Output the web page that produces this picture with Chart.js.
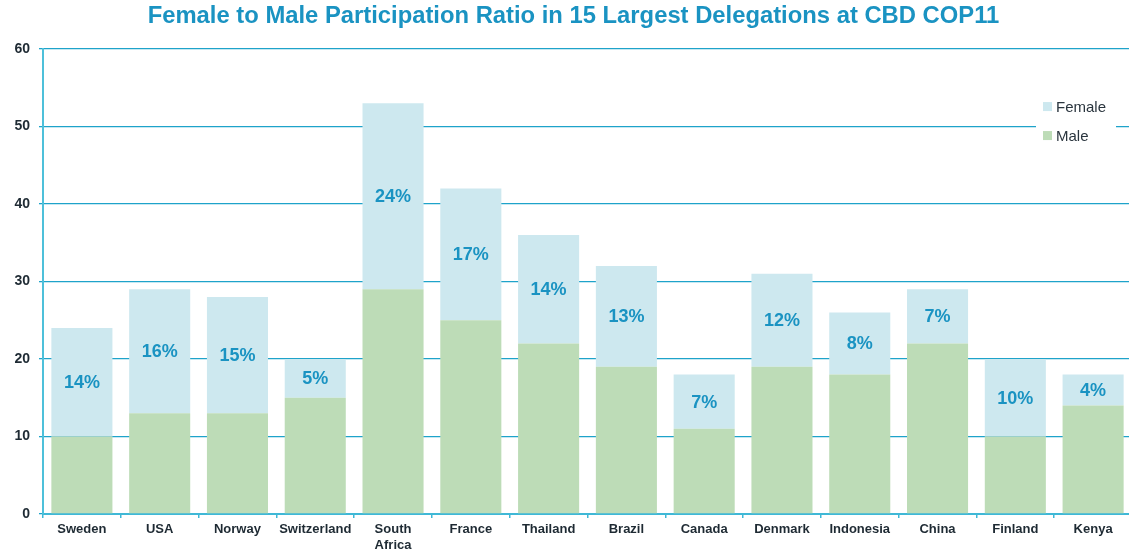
<!DOCTYPE html>
<html>
<head>
<meta charset="utf-8">
<script src="https://cdn.jsdelivr.net/npm/chart.js@4"></script>
<style>
  html, body { margin: 0; padding: 0; background: #ffffff; overflow: hidden; }
  #wrap { width: 1129px; height: 556px; position: relative; overflow: hidden; }
  #c { display: block; }
</style>
</head>
<body>
<div id="wrap"><canvas id="c" width="1132" height="556"></canvas></div>
<script>
const categories = ['Sweden', 'USA', 'Norway', 'Switzerland', ['South', 'Africa'], 'France', 'Thailand', 'Brazil', 'Canada', 'Denmark', 'Indonesia', 'China', 'Finland', 'Kenya'];
const maleValues = [10, 13, 13, 15, 29, 25, 22, 19, 11, 19, 18, 22, 10, 14];
const femaleValues = [14, 16, 15, 5, 24, 17, 14, 13, 7, 12, 8, 7, 10, 4];
const femaleLabels = ['14%', '16%', '15%', '5%', '24%', '17%', '14%', '13%', '7%', '12%', '8%', '7%', '10%', '4%'];
const yTicks = [0, 10, 20, 30, 40, 50, 60];

const FONT = 'Arial, "Liberation Sans", sans-serif';
const MALE_COLOR = '#bddcb7';
const FEMALE_COLOR = '#cde8ef';
const BLUE = '#1a93c2';
const DARK = '#1e2a33';

const titleShift = {
  id: 'titleShift',
  afterLayout(chart) {
    if (chart.titleBlock) { chart.titleBlock.left += 15; }
  }
};

const labelPlugin = {
  id: 'segLabels',
  afterDatasetsDraw(chart) {
    const ctx = chart.ctx;
    const meta = chart.getDatasetMeta(1);
    ctx.save();
    ctx.font = 'bold 18px ' + FONT;
    ctx.fillStyle = BLUE;
    ctx.textAlign = 'center';
    ctx.textBaseline = 'middle';
    meta.data.forEach((bar, i) => {
      const p = bar.getProps(['x', 'y', 'base'], true);
      ctx.fillText(femaleLabels[i], p.x, (p.y + p.base) / 2 + 1);
    });
    ctx.restore();
  }
};

const legendPlugin = {
  id: 'customLegend',
  afterDraw(chart) {
    const ctx = chart.ctx;
    const a = chart.chartArea;
    const boxL = 1036, boxT = a.top + 43, boxW = 80, boxH = 58;
    ctx.save();
    ctx.fillStyle = '#ffffff';
    ctx.fillRect(boxL, boxT, boxW, boxH);
    const items = [
      { text: chart.data.datasets[1].label, color: FEMALE_COLOR },
      { text: chart.data.datasets[0].label, color: MALE_COLOR }
    ];
    ctx.font = '15px ' + FONT;
    ctx.textBaseline = 'middle';
    ctx.textAlign = 'left';
    items.forEach((it, k) => {
      const cy = boxT + 15 + k * 29;
      ctx.fillStyle = it.color;
      ctx.fillRect(boxL + 7, cy - 5, 9, 9);
      ctx.fillStyle = '#2a353e';
      ctx.fillText(it.text, boxL + 20, cy + 1);
    });
    ctx.restore();
  }
};

new Chart(document.getElementById('c'), {
  type: 'bar',
  data: {
    labels: categories,
    datasets: [
      { label: 'Male', data: maleValues, backgroundColor: MALE_COLOR, borderWidth: 0, categoryPercentage: 1, barPercentage: 0.785 },
      { label: 'Female', data: femaleValues, backgroundColor: FEMALE_COLOR, borderWidth: 0, categoryPercentage: 1, barPercentage: 0.785 }
    ]
  },
  options: {
    responsive: false,
    animation: false,
    layout: { padding: { left: 0, right: 0, top: 0, bottom: 0 } },
    plugins: {
      legend: { display: false },
      tooltip: { enabled: false },
      title: {
        display: true,
        text: 'Female to Male Participation Ratio in 15 Largest Delegations at CBD COP11',
        color: BLUE,
        font: { family: FONT, size: 23.8, weight: 'bold', lineHeight: 1.2 },
        padding: { top: 2.5, bottom: 18 }
      }
    },
    scales: {
      x: {
        stacked: true,
        offset: true,
        afterFit: (s) => { s.height = 42; },
        grid: { offset: true, drawOnChartArea: false, drawTicks: true, tickLength: 4, color: '#3fb8d6', lineWidth: 1.5 },
        border: { display: true, color: '#3fb8d6', width: 2 },
        ticks: {
          color: DARK,
          padding: 4,
          maxRotation: 0,
          autoSkip: false,
          font: { family: FONT, size: 13, weight: 'bold', lineHeight: 1.2 }
        }
      },
      y: {
        stacked: true,
        min: 0,
        max: 60,
        afterFit: (s) => { s.width = 43; },
        afterBuildTicks: (s) => { s.ticks = yTicks.map(v => ({ value: v })); },
        grid: { color: '#1ea3ca', lineWidth: 1.3, tickLength: 4 },
        border: { display: true, color: '#4dc0da', width: 2 },
        ticks: {
          color: DARK,
          padding: 9,
          font: { family: FONT, size: 14, weight: 'bold' }
        }
      }
    }
  },
  plugins: [titleShift, labelPlugin, legendPlugin]
});
</script>
</body>
</html>
